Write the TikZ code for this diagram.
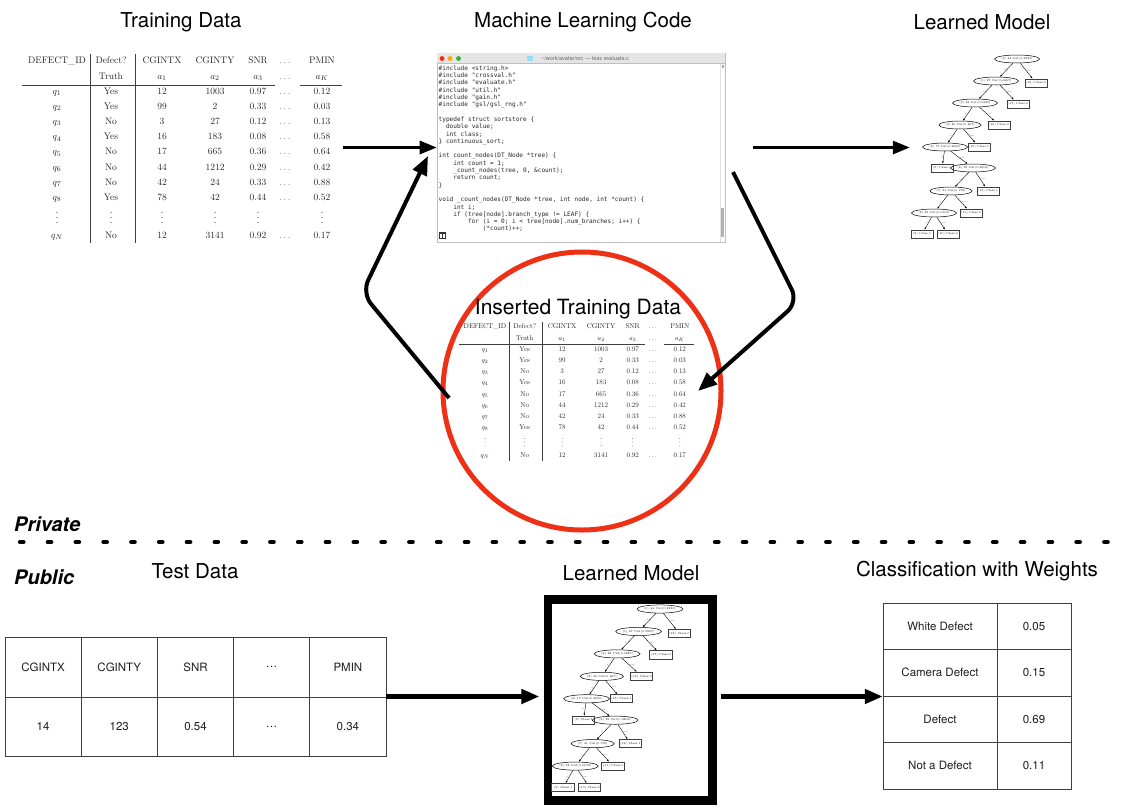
\documentclass[tikz,border=0pt]{standalone}
\usepackage{fontspec}
\newfontfamily\hv{TeX Gyre Heros}
\newfontfamily\codefont{DejaVu Sans Mono}
\usetikzlibrary{arrows.meta,shapes.geometric}
\definecolor{cred}{RGB}{238,48,22}
\tikzset{
  ttl/.style={font=\hv\fontsize{20.5}{22}\selectfont, inner sep=0},
  tt/.style={font=\fontsize{9.5}{11}\selectfont, text=black!85, inner sep=0, text height=6.5pt, text depth=2pt, anchor=center},
  cl/.style={font=\codefont\fontsize{6.1}{7}\selectfont, text=black!85, inner sep=0, anchor=base west},
  tel/.style={ellipse, draw, line width=0.5, inner sep=0.2pt, minimum height=8, minimum width=34, font=\fontsize{2.8}{3}\selectfont},
  tbox/.style={rectangle, draw=black!75, line width=0.9, inner sep=0.8, minimum height=8, minimum width=22, font=\fontsize{2.8}{3}\selectfont},
  tedge/.style={line width=0.4, -{Latex[length=2.2pt,width=1.8pt]}},
  tlab/.style={font=\fontsize{2}{2}\selectfont, inner sep=0.5},
  cell/.style={draw=black!75, line width=0.8, inner sep=0, font=\hv\fontsize{11.5}{13}\selectfont, text=black!88},
  arr/.style={-{Triangle[length=17pt,width=13pt]}, line width=3},
  carr/.style={-{Triangle[length=19pt,width=15pt]}, line width=4, rounded corners=14pt},
  barr/.style={-{Triangle[length=18pt,width=14pt]}, line width=4.5},
}
\newcommand\traintable[1]{%
  \draw[line width=0.7, black!75] (22,85) -- (275,85) (300,85) -- (342,85);
  \draw[line width=0.7, black!75] (90,54) -- (90,243) (135,54) -- (135,243);
  \foreach \x/\t [count=\k] in {57/DEFECT\_ID,111/Defect?,162/CGINTX,215/CGINTY,258/SNR,285/$\dots$,322/PMIN}
    \node[tt] (#1ha\k) at (\x,61) {\t};
  \foreach \x/\t [count=\k] in {111/Truth,162/$a_1$,215/$a_2$,258/$a_3$,285/$\dots$,322/$a_K$}
    \node[tt] (#1hb\k) at (\x,77) {\t};
  \foreach \q/\d/\a/\b/\c/\p [count=\k] in {1/Yes/12/1003/0.97/0.12, 2/Yes/99/2/0.33/0.03, 3/No/3/27/0.12/0.13, 4/Yes/16/183/0.08/0.58, 5/No/17/665/0.36/0.64, 6/No/44/1212/0.29/0.42, 7/No/42/24/0.33/0.88, 8/Yes/78/42/0.44/0.52}{
    \pgfmathsetmacro\yy{92+15.15*(\k-1)}
    \node[tt] (#1r\k a) at (57,\yy) {$q_\q$};
    \node[tt] (#1r\k b) at (111,\yy) {\d};
    \node[tt] (#1r\k c) at (162,\yy) {\a};
    \node[tt] (#1r\k d) at (215,\yy) {\b};
    \node[tt] (#1r\k e) at (258,\yy) {\c};
    \node[tt] (#1r\k f) at (285,\yy) {$\dots$};
    \node[tt] (#1r\k g) at (322,\yy) {\p};
  }
  \foreach \x in {57,111,162,215,258,322}
    \fill[black!70] (\x,212.5) circle (0.55) (\x,217.5) circle (0.55) (\x,222.5) circle (0.55);
  \foreach \x/\t [count=\k] in {57/$q_N$,111/No,162/12,215/3141,258/0.92,285/$\dots$,322/0.17}
    \node[tt] (#1n\k) at (\x,236) {\t};
}
\newcommand\mltree[1]{%
  \node[tel] (#1n0) at (0,0) {(0) 44 Cut(0.3235)};
  \node[tel] (#1n1) at (-21,22) {(1) 27 Cut(0.0867)};
  \node[tel] (#1n2) at (-42,44) {(2) 33 Cut(0.0235)};
  \node[tel] (#1n3) at (-57,66) {(3) 30 Cut(0.467)};
  \node[tel] (#1n4) at (-72,88) {(4) 17 Cut(0.2060)};
  \node[tel] (#1n6) at (-44,109) {(6) 58 Cut(0.3802)};
  \node[tel] (#1n7) at (-66,132) {(7) 41 Cut(0.178)};
  \node[tel] (#1n8) at (-83,154) {(8) 58 Cut(0.0103)};
  \node[tbox] (#1l18) at (19,24) {(18) Class:0};
  \node[tbox] (#1l17) at (1,45) {(17) Class:0};
  \node[tbox] (#1l16) at (-18,66) {(16) Class:0};
  \node[tbox] (#1l15) at (-38,88) {(15) Class:1};
  \node[tbox] (#1l5) at (-75,109) {(5) Class:1};
  \node[tbox] (#1l12) at (-29,132) {(12) Class:1};
  \node[tbox] (#1l11) at (-46,154) {(11) Class:0};
  \node[tbox] (#1l9) at (-95,175) {(9) Class:1};
  \node[tbox] (#1l10) at (-69,175) {(10) Class:0};
  \foreach \p/\a/\b in {n0/n1/l18, n1/n2/l17, n2/n3/l16, n3/n4/l15, n4/l5/n6, n6/n7/l12, n7/n8/l11, n8/l9/l10}{
    \draw[tedge] (#1\p) -- node[tlab, left] {<} (#1\a);
    \draw[tedge] (#1\p) -- node[tlab, right] {>=} (#1\b);
  }
}
\begin{document}
\begin{tikzpicture}[x=1pt, y=-1pt]
\useasboundingbox (0,0) rectangle (1121,809);
\fill[white] (0,0) rectangle (1121,809);

% titles
\node[ttl] (t1) at (181,22) {Training Data};
\node[ttl] (t2) at (583,22) {Machine Learning Code};
\node[ttl] (t3) at (982,22) {Learned Model};

% training table
\node[inner sep=0, minimum width=323, minimum height=195] (train) at (181.5,147.5) {};
\traintable{A}

% code window
\node[draw=black!25, line width=0.6, fill=white, minimum width=288, minimum height=189, inner sep=0] (code) at (581,147.5) {};
\fill[black!10] (437.3,53.3) rectangle (724.7,63.5);
\draw[black!25, line width=0.5] (437,63.5) -- (725,63.5);
\fill[red!70!orange] (442,58.5) circle (2.4);
\fill[orange!70!yellow] (450,58.5) circle (2.4);
\fill[green!60!black!80] (458.5,58.5) circle (2.4);
\fill[cyan!40] (527,56.3) rectangle (533,61);
\node[font=\hv\fontsize{5.6}{6}\selectfont, text=black!60, inner sep=0] (wt) at (585,58.5) {\textasciitilde/work/avatar/src — less evaluate.c};
\draw[black!12, line width=0.5] (720,64) -- (720,242);
\fill[black!30] (721,208) rectangle (724,237);
\fill[black!35] (721.5,65) rectangle (724,68);
\foreach \t/\n/\i in {
  {\#include <string.h>}/0/0,
  {\#include "crossval.h"}/0/1,
  {\#include "evaluate.h"}/0/2,
  {\#include "util.h"}/0/3,
  {\#include "gain.h"}/0/4,
  {\#include "gsl/gsl\_rng.h"}/0/5,
  {typedef struct sortstore \{}/0/7,
  {double value;}/2/8,
  {int class;}/2/9,
  {\} continuous\_sort;}/0/10,
  {int count\_nodes(DT\_Node *tree) \{}/0/12,
  {int count = 1;}/4/13,
  {\_count\_nodes(tree, 0, \&count);}/4/14,
  {return count;}/4/15,
  {\}}/0/16,
  {void \_count\_nodes(DT\_Node *tree, int node, int *count) \{}/0/18,
  {int i;}/4/19,
  {if (tree[node].branch\_type != LEAF) \{}/4/20,
  {for (i = 0; i < tree[node].num\_branches; i++) \{}/8/21,
  {(*count)++;}/12/22}
  \node[cl] (code\i) at (438.5+3.67*\n, 70.3+7.3*\i) {\t};
\fill[black!80] (438.5,232) rectangle (446,239);
\fill[white] (440,233.5) rectangle (442,237.5);
\fill[white] (443,233.5) rectangle (445,237.5);

% top learned model
\node[inner sep=0, minimum width=140, minimum height=195] (topmodel) at (980,147.5) {};
\begin{scope}[shift={(1017,59)}]
  \mltree{T}
\end{scope}

% inserted training data
\node[circle, draw=cred, line width=5, minimum size=278, inner sep=0] (ins) at (582,391) {};
\node[ttl, font=\hv\fontsize{21}{23}\selectfont] (inst) at (578,309) {Inserted Training Data};
\begin{scope}[shift={(443.1,282.2)}, scale=0.735, transform shape]
  \traintable{B}
\end{scope}

% top arrows
\draw[arr] (train.east) -- (code.west);
\draw[arr, shorten <=28pt] (code.east) -- (topmodel.west);
\coordinate (ls) at (449,398);
\coordinate (lc) at (362,293);
\coordinate (lt) at (428,156);
\draw[carr] (ls) -- (lc) -- (lt);
\coordinate (rs) at (733,172);
\coordinate (rc) at (798,302);
\coordinate (rt) at (698,391);
\draw[carr] (rs) -- (rc) -- (rt);

% private / public
\node[font=\hv\bfseries\itshape\fontsize{20}{22}\selectfont, anchor=west, inner sep=0] (priv) at (14,524) {Private};
\node[font=\hv\bfseries\itshape\fontsize{20}{22}\selectfont, anchor=west, inner sep=0] (publ) at (14,577) {Public};
\draw[line width=4.2, line cap=round, dash pattern=on 3.5pt off 24.3pt] (20,542) -- (1110,542);

% bottom titles
\node[ttl] (t4) at (195,571) {Test Data};
\node[ttl] (t5) at (631,573) {Learned Model};
\node[ttl] (t6) at (977,571) {Classification with Weights};

% test table
\node[inner sep=0, minimum width=381, minimum height=119] (test) at (195.5,696.5) {};
\foreach \h/\v [count=\k] in {CGINTX/14, CGINTY/123, SNR/0.54, {\ldots}/{\ldots}, PMIN/0.34}{
  \node[cell, minimum width=76.2, minimum height=60] (th\k) at (5+76.2*\k-38.1, 667) {\h};
  \node[cell, minimum width=76.2, minimum height=59] (tv\k) at (5+76.2*\k-38.1, 726.5) {\v};
}

% bottom learned model
\node[draw, line width=8.5, minimum width=164.5, minimum height=201, inner sep=0] (bm) at (630.25,599.5+100.5) {};
\begin{scope}[shift={(660,609)}, scale=1.02, transform shape]
  \mltree{B}
\end{scope}

% classification table
\node[inner sep=0, minimum width=188, minimum height=186] (cls) at (977,696.5) {};
\foreach \c/\w [count=\k] in {White Defect/0.05, Camera Defect/0.15, Defect/0.69, Not a Defect/0.11}{
  \node[cell, minimum width=114, minimum height=46.5] (ca\k) at (940, 603+46.5*\k-23.25) {\c};
  \node[cell, minimum width=74, minimum height=46.5] (cb\k) at (1034, 603+46.5*\k-23.25) {\w};
}

% bottom arrows
\draw[barr, shorten >=4.3pt] (test.east) -- (bm.west |- test.east);
\draw[barr, shorten <=4.3pt] (bm.east |- cls.west) -- (cls.west);
\end{tikzpicture}
\end{document}
